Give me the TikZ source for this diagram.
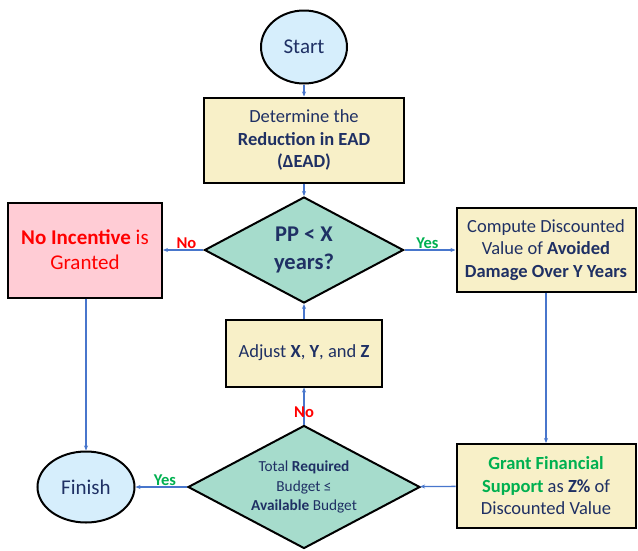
\documentclass[tikz,border=0pt]{standalone}
\usepackage{fontspec}
\setmainfont{Carlito}
\usetikzlibrary{shapes.geometric,arrows.meta}
\definecolor{navy}{RGB}{31,48,100}
\definecolor{ellfill}{RGB}{214,238,252}
\definecolor{boxfill}{RGB}{248,240,200}
\definecolor{diafill}{RGB}{166,220,204}
\definecolor{pinkfill}{RGB}{255,204,213}
\definecolor{arrowc}{RGB}{72,118,204}
\definecolor{yesgreen}{RGB}{0,176,80}
\definecolor{nored}{RGB}{255,0,0}
\tikzset{
  ell/.style={ellipse,draw=black,line width=2pt,fill=ellfill,text=navy,inner sep=0pt,font=\fontsize{21}{24}\selectfont},
  procbox/.style={rectangle,draw=black,line width=2pt,fill=boxfill,text=navy,align=center,inner sep=0pt,font=\fontsize{18.5}{22.5}\selectfont},
  dia/.style={diamond,draw=black,line width=2pt,fill=diafill,text=navy,align=center,inner sep=0pt,shape aspect=1.89},
  conn/.style={arrowc,line width=1.3pt,-{Stealth[length=5pt,width=4pt]}},
  lbl/.style={font=\bfseries\fontsize{16.5}{18}\selectfont,inner sep=1pt}
}
\begin{document}
\begin{tikzpicture}[x=1pt,y=-1pt]
\useasboundingbox (0,0) rectangle (638,550);
\node[ell,minimum width=86pt,minimum height=73pt] (start) at (304,47) {Start};
\node[procbox,minimum width=200pt,minimum height=85pt] (det) at (304,140) {Determine the\\\textbf{Reduction in EAD}\\\textbf{(ΔEAD)}};
\node[dia,minimum width=199pt,minimum height=106pt,font=\bfseries\fontsize{22.5}{28}\selectfont] (pp) at (304,250) {PP < X\\years?};
\node[procbox,fill=pinkfill,text=nored,minimum width=154pt,minimum height=95pt,font=\fontsize{21}{25}\selectfont] (noinc) at (85,250) {\textbf{No Incentive} is\\Granted};
\node[procbox,minimum width=179pt,minimum height=84pt] (comp) at (546,250) {Compute Discounted\\Value of \textbf{Avoided}\\\textbf{Damage Over Y Years}};
\node[procbox,minimum width=156pt,minimum height=67pt] (adj) at (304,353) {Adjust \textbf{X}, \textbf{Y}, and \textbf{Z}};
\node[dia,minimum width=232pt,minimum height=123pt,font=\fontsize{15.3}{19.5}\selectfont] (bud) at (304,487) {Total \textbf{Required}\\Budget ≤\\\textbf{Available} Budget};
\node[ell,minimum width=97pt,minimum height=71pt] (fin) at (86,487) {Finish};
\node[procbox,minimum width=179pt,minimum height=84pt] (grant) at (546,486) {\textcolor{yesgreen}{\textbf{Grant Financial}}\\\textcolor{yesgreen}{\textbf{Support}} as \textbf{Z\%} of\\Discounted Value};
\draw[conn] (start) -- (det);
\draw[conn] (det) -- (pp);
\draw[conn] (pp) -- (noinc) node[lbl,text=nored,pos=0.42,above] {No};
\draw[conn] (pp) -- (comp) node[lbl,text=yesgreen,pos=0.45,above] {Yes};
\draw[conn] (comp) -- (grant);
\draw[conn] (grant) -- (bud);
\draw[conn] (bud) -- (fin) node[lbl,text=yesgreen,pos=0.43,above] {Yes};
\draw[conn] (bud) -- (adj) node[lbl,text=nored,pos=0.32] {No};
\draw[conn] (adj) -- (pp);
\draw[conn] (noinc.south -| fin.north) -- (fin);
\end{tikzpicture}
\end{document}
